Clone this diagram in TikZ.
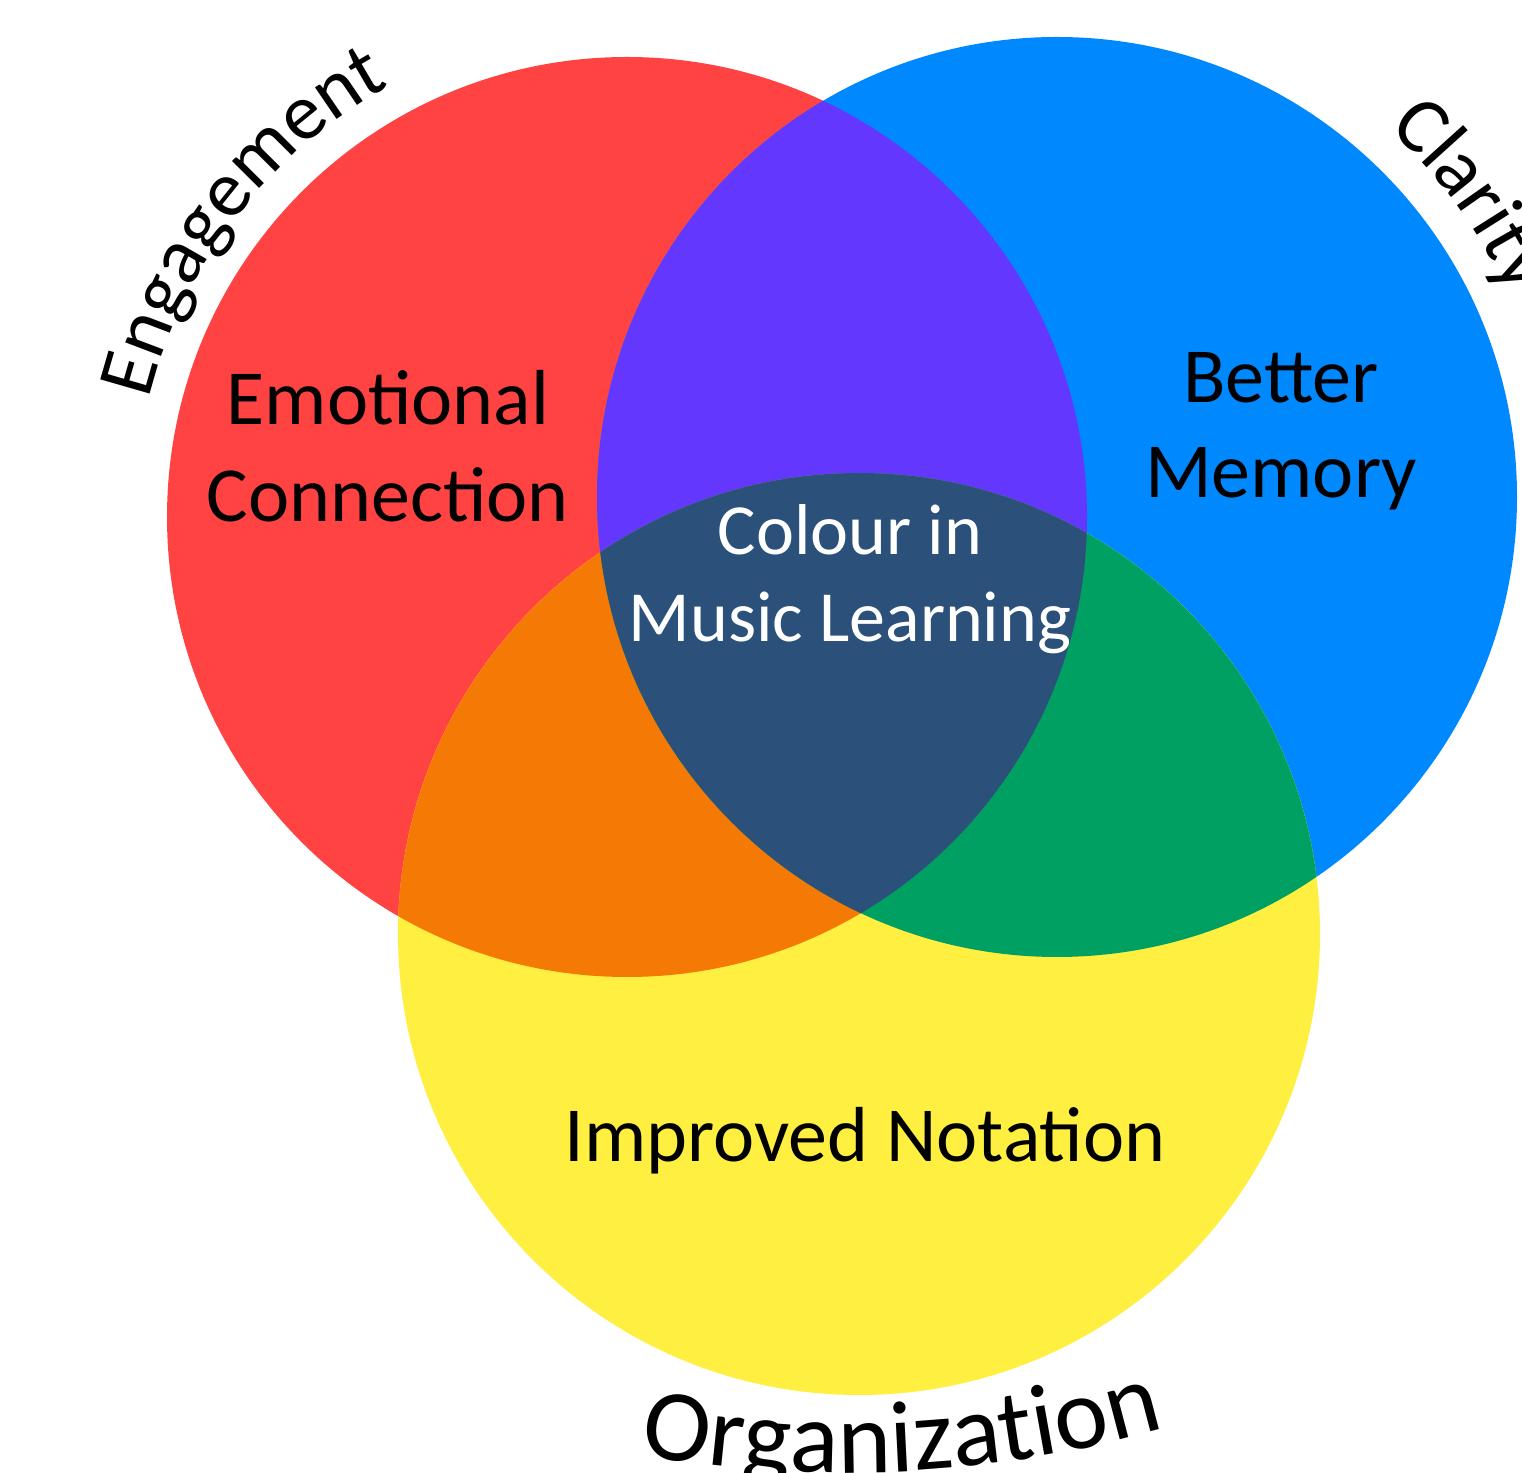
\documentclass[tikz,border=0pt]{standalone}
\usepackage{fontspec}
\setmainfont{Carlito}
\usetikzlibrary{decorations.text}
\definecolor{cred}{HTML}{FF4343}
\definecolor{cblue}{HTML}{0088FF}
\definecolor{cyellow}{HTML}{FFEF40}
\definecolor{cpurple}{HTML}{6437FF}
\definecolor{corange}{HTML}{F57905}
\definecolor{cgreen}{HTML}{00A063}
\definecolor{ccenter}{HTML}{2B5079}
\begin{document}
\begin{tikzpicture}[x=1pt,y=1pt,
  lbl/.style={font=\fontsize{78}{94}\selectfont, text=black, inner sep=0pt, anchor=base},
  clbl/.style={font=\fontsize{72}{86}\selectfont, text=white, inner sep=0pt, anchor=base}]
\useasboundingbox (0,0) rectangle (1522,1472);
\clip (0,0) rectangle (1522,1472);
\coordinate (R) at (627,955);
\coordinate (B) at (1057,975);
\coordinate (Y) at (859,538);
\coordinate (O) at (845,1160);
% base circles
\fill[cred] (R) circle[radius=460];
\fill[cblue] (B) circle[radius=460];
\fill[cyellow] (Y) circle[radius=461];
% overlaps
\begin{scope}
  \clip (R) circle[radius=460];
  \fill[cpurple] (B) circle[radius=460];
  \fill[corange] (Y) circle[radius=461];
\end{scope}
\begin{scope}
  \clip (B) circle[radius=460];
  \fill[cgreen] (Y) circle[radius=461];
\end{scope}
\begin{scope}
  \clip (R) circle[radius=460];
  \clip (B) circle[radius=460];
  \fill[ccenter] (Y) circle[radius=461];
\end{scope}
% region labels
\node[lbl] (emo1) at (388,1047) {Emotional};
\node[lbl] (emo2) at (388,950) {Connection};
\node[lbl] (mem1) at (1281,1069) {Better};
\node[lbl] (mem2) at (1281,974) {Memory};
\node[clbl] (cen1) at (850,917) {Colour in};
\node[clbl] (cen2) at (850,830) {Music Learning};
\node[lbl] (nota) at (865,310) {Improved Notation};
% curved set labels
\path[decorate, decoration={text along path,
  text={|\fontsize{80}{96}\selectfont|Engagement}, text align=center}]
  (R) ++(172:492) arc[start angle=172, end angle=113, radius=492];
\path[decorate, decoration={text along path,
  text={|\fontsize{80}{96}\selectfont|Clarity}, text align=center}]
  (B) ++(66:495) arc[start angle=66, end angle=6, radius=495];
\path[decorate, decoration={text along path,
  text={|\fontsize{102}{120}\selectfont|Organization}, text align=center}]
  (O) ++(252.9:1161) arc[start angle=252.9, end angle=292.9, radius=1161];
\end{tikzpicture}
\end{document}
